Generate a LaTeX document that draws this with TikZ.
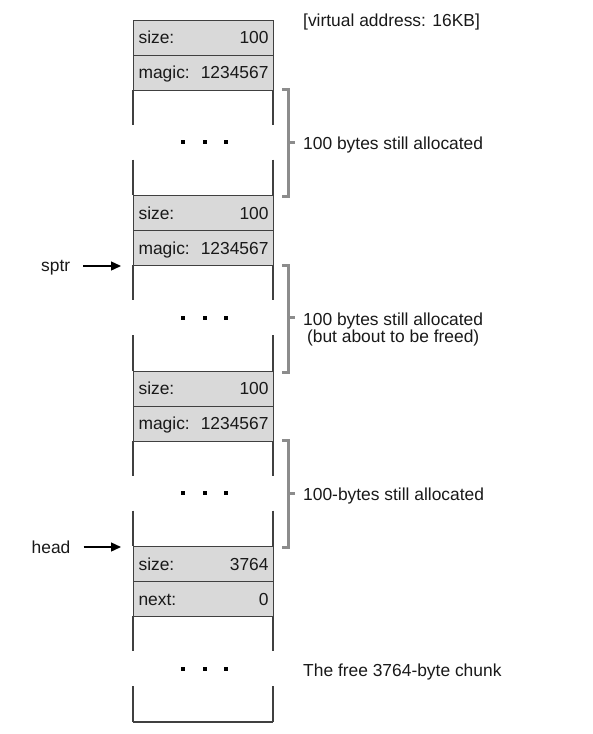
\documentclass[tikz,border=0pt]{standalone}
\usepackage{fontspec}
\setmainfont{Liberation Sans}
\usetikzlibrary{arrows.meta}
\begin{document}
\begin{tikzpicture}[x=1pt,y=-1pt,
  every node/.style={font=\fontsize{17.4}{18}\selectfont, text=black!90},
  cell/.style={draw=black!75, line width=1.1pt, fill=black!15, text width=130pt,
    inner xsep=5pt, inner ysep=0pt, minimum height=35pt, text height=12.6pt, text depth=0pt,
    anchor=north west},
  side/.style={draw=black!75, line width=1.1pt},
  brk/.style={draw=black!45, line width=3pt, line cap=butt, line join=miter},
  lbl/.style={anchor=base west, inner sep=0pt},
  ptr/.style={-{Triangle[length=10pt,width=9pt]}, line width=1.4pt, draw=black},
  blob/.style={fill=black, minimum size=4pt, inner sep=0pt}
]
\useasboundingbox (0,0) rectangle (593,734);

% blocks
\foreach \k/\a/\av/\b/\bv in {0/size:/100/magic:/1234567, 1/size:/100/magic:/1234567, 2/size:/100/magic:/1234567, 3/size:/3764/next:/0}{
  \pgfmathsetmacro{\yz}{19.5+175.5*\k}
  \node[cell] (sz\k) at (133,\yz) {\a\hfill\av};
  \node[cell] (mg\k) at (133,\yz+35) {\b\ifx\bv\empty\else\hfill\bv\fi};
  \draw[side] (133,\yz+70) -- (133,\yz+105) (133,\yz+140) -- (133,\yz+175.5);
  \draw[side] (273,\yz+70) -- (273,\yz+105) (273,\yz+140) -- (273,\yz+175.5);
  \node[blob] (da\k) at (183,\yz+122.75) {};
  \node[blob] (db\k) at (204.5,\yz+122.75) {};
  \node[blob] (dc\k) at (226,\yz+122.75) {};
}
\draw[side] (133,722) -- (273,722);

% brackets
\foreach \k in {0,1,2}{
  \pgfmathsetmacro{\yz}{19.5+175.5*\k}
  \draw[brk] (282,\yz+70) -- (288,\yz+70) -- (288,\yz+177) -- (282,\yz+177);
  \draw[brk] (288,\yz+122.75) -- (295,\yz+122.75);
}

% labels
\node[lbl] (vaddr) at (303,26) {[virtual address: 16KB]};
\node[lbl] (lab1) at (303,149.5) {100 bytes still allocated};
\node[lbl] (lab2a) at (303,325.5) {100 bytes still allocated};
\node[anchor=base, inner sep=0pt] (lab2b) at ([yshift=-17pt]lab2a.base) {(but about to be freed)};
\node[lbl] (lab3) at (303,500.5) {100-bytes still allocated};
\node[lbl] (lab4) at (303,676.5) {The free 3764-byte chunk};

% pointers
\node[lbl] (sptr) at (41,271) {sptr};
\node[lbl] (head) at (31.5,553) {head};
\coordinate (sptrtip) at (121,266);
\coordinate (headtip) at (121,547);
\draw[ptr] ([xshift=13pt]sptr.east |- sptrtip) -- (sptrtip);
\draw[ptr] ([xshift=13pt]head.east |- headtip) -- (headtip);
\end{tikzpicture}
\end{document}
